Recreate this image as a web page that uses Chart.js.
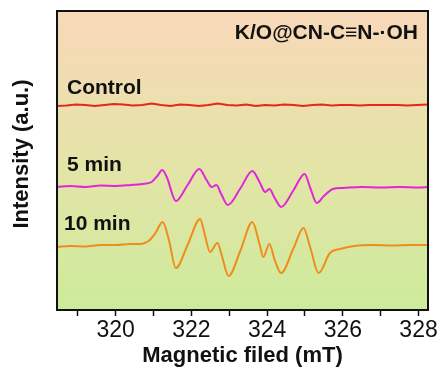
<!DOCTYPE html>
<html>
<head>
<meta charset="utf-8">
<script src="https://cdn.jsdelivr.net/npm/chart.js@4"></script>
<style>
  html, body { margin: 0; padding: 0; background: #fff; }
  #wrap { width: 443px; height: 382px; }
</style>
</head>
<body>
<div id="wrap"><canvas id="chart"></canvas></div>
<script>
// x in mT, y in arbitrary units (traces already stacked)
const xMin = 318.45
const xMax = 328.25
const tickVals = [319, 320, 321, 322, 323, 324, 325, 326, 327, 328]

const controlX = [318.45, 318.7, 318.95, 319.2, 319.45, 319.7, 319.95, 320.2, 320.45, 320.7, 320.95, 321.2, 321.45, 321.7, 321.95, 322.2, 322.45, 322.7, 322.95, 323.2, 323.45, 323.7, 323.95, 324.2, 324.45, 324.7, 324.95, 325.2, 325.45, 325.7, 325.95, 326.2, 326.45, 326.7, 326.95, 327.2, 327.45, 327.7, 327.95, 328.25]
const controlY = [204, 204.5, 205.5, 205, 204, 205, 206, 205.5, 204.5, 205, 206.5, 205, 204, 205.5, 205, 204, 205, 206.5, 205, 204.5, 205.5, 204, 205, 204.5, 205.5, 205, 204, 205, 205.5, 204.5, 205, 205, 204.5, 205, 205, 205, 205, 204.5, 205, 205.5]

const min5X = [318.45, 318.8, 319.2, 319.6, 320.0, 320.4, 320.7, 320.95, 321.1, 321.23, 321.35, 321.59, 321.9, 322.21, 322.4, 322.54, 322.66, 322.8, 322.96, 323.3, 323.61, 323.8, 323.95, 324.06, 324.2, 324.37, 324.7, 324.99, 325.15, 325.31, 325.5, 325.74, 326.0, 326.5, 327.0, 327.5, 328.0, 328.25]
const min5Y = [123, 124, 123, 124.5, 124, 125, 126, 128, 134, 140, 133, 109, 125, 141, 130, 123, 125, 115, 105, 122, 139, 128, 118, 121, 112, 103, 120, 136, 121, 107, 114, 121, 122, 123, 122.5, 123, 122.5, 123]

const min10X = [318.45, 318.8, 319.2, 319.6, 320.0, 320.4, 320.64, 320.9, 321.05, 321.24, 321.4, 321.59, 321.9, 322.23, 322.35, 322.49, 322.69, 322.8, 322.98, 323.3, 323.61, 323.8, 323.9, 324.06, 324.2, 324.37, 324.7, 324.96, 325.15, 325.36, 325.66, 325.93, 326.3, 326.8, 327.3, 327.8, 328.25]
const min10Y = [63, 64, 63.5, 65, 65, 66, 66, 70, 77, 88, 71, 42, 65, 91, 76, 58, 67, 55, 34, 60, 88, 66, 53, 66, 50, 37, 62, 82, 61, 37, 57, 61, 64, 65, 64.5, 65, 65]

const pts = (xs, ys) => xs.map((x, i) => ({x: x, y: ys[i]}))

const bgPlugin = {
    id: "bg",
    beforeDraw(chart) {
        const {ctx, chartArea: a} = chart
        const g = ctx.createLinearGradient(0, a.top, 0, a.bottom)
        g.addColorStop(0, "#f8d8b9")
        g.addColorStop(0.5, "#e5e4a8")
        g.addColorStop(1, "#cdeb9b")
        ctx.save()
        ctx.fillStyle = g
        ctx.fillRect(a.left, a.top, a.right - a.left, a.bottom - a.top)
        ctx.restore()
    },
    afterDraw(chart) {
        const {ctx, chartArea: a} = chart
        ctx.save()
        ctx.strokeStyle = "#111"
        ctx.lineWidth = 2
        ctx.strokeRect(a.left, a.top, a.right - a.left, a.bottom - a.top)

        ctx.fillStyle = "#111"
        ctx.font = "bold 21px 'Liberation Sans', Arial, sans-serif"
        ctx.textBaseline = "middle"
        ctx.textAlign = "left"
        ctx.fillText("Control", a.left + 10, 88)
        ctx.fillText("5 min", a.left + 10, 165)
        ctx.fillText("10 min", a.left + 7, 224)
        ctx.textAlign = "right"
        ctx.fillText("K/O@CN-C\u2261N-\u00b7OH", a.right - 10, 33)

        ctx.font = "bold 22px 'Liberation Sans', Arial, sans-serif"
        ctx.textAlign = "center"
        ctx.translate(22, 154)
        ctx.rotate(-Math.PI / 2)
        ctx.fillText("Intensity (a.u.)", 0, 0)
        ctx.restore()
    }
}

const line = (label, data, color, smooth) => ({
    label: label,
    data: data,
    borderColor: color,
    borderWidth: 2,
    pointRadius: 0,
    tension: smooth ? 0.4 : 0,
    cubicInterpolationMode: smooth ? "monotone" : "default",
    fill: false
})

new Chart(document.getElementById("chart"), {
    type: "line",
    data: {
        datasets: [
            line("Control", pts(controlX, controlY), "#e8261e", false),
            line("5 min", pts(min5X, min5Y), "#e026d8", true),
            line("10 min", pts(min10X, min10Y), "#f08c1c", true)
        ]
    },
    plugins: [bgPlugin],
    options: {
        responsive: true,
        maintainAspectRatio: false,
        animation: false,
        layout: { padding: { left: 57, right: 15, top: 11, bottom: 0 } },
        plugins: { legend: { display: false }, tooltip: { enabled: false } },
        scales: {
            x: {
                type: "linear",
                min: xMin,
                max: xMax,
                afterBuildTicks: s => { s.ticks = tickVals.map(v => ({value: v})) },
                afterFit: s => { s.height = 72 },
                border: { display: false },
                grid: { drawOnChartArea: false, tickLength: 6, tickColor: "#111", tickWidth: 1.5 },
                ticks: {
                    autoSkip: false,
                    maxRotation: 0,
                    color: "#111",
                    padding: 1,
                    font: { size: 23, family: "'Liberation Sans', Arial, sans-serif" },
                    callback: v => (v % 2 === 0 ? v : "")
                },
                title: {
                    display: true,
                    text: "Magnetic filed (mT)",
                    color: "#111",
                    padding: { top: 0, bottom: 13 },
                    font: { size: 22, weight: "bold", family: "'Liberation Sans', Arial, sans-serif" }
                }
            },
            y: {
                display: false,
                min: 0,
                max: 299
            }
        }
    }
})
</script>
</body>
</html>
